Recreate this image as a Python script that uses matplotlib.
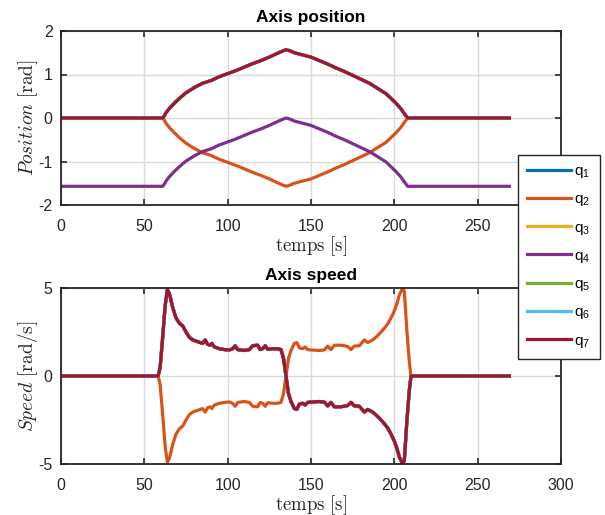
import numpy as np
import matplotlib
matplotlib.use('Agg')
import matplotlib.pyplot as plt

plt.rcParams['font.family'] = ['Liberation Sans', 'DejaVu Sans']
plt.rcParams['mathtext.fontset'] = 'cm'

# ==> Joint trajectory samples (time in s)

t_pos = [0, 61, 62, 63, 65, 68, 71, 75, 80, 85, 90, 95, 100, 105, 110, 115,
         120, 125, 130, 133, 135, 137, 140, 145, 150, 155, 160, 165, 170, 175,
         180, 185, 190, 195, 198, 201, 204, 206, 208, 269]
q7_pos = [0, 0, 0.05, 0.12, 0.22, 0.34, 0.45, 0.58, 0.70, 0.80, 0.86, 0.95,
          1.02, 1.09, 1.17, 1.25, 1.32, 1.40, 1.49, 1.54, 1.57, 1.55, 1.50,
          1.45, 1.40, 1.32, 1.24, 1.15, 1.07, 0.98, 0.89, 0.80, 0.68, 0.56,
          0.45, 0.34, 0.21, 0.10, 0, 0]

t_vel = [0, 58.3, 59.5, 61, 62.5, 63.8, 65, 67, 69, 71, 73, 75, 77, 79, 82,
         85, 86.5, 88, 89.5, 90.5, 92, 95, 98, 101, 103, 104.5, 106, 110, 113,
         115, 118, 119.5, 121, 122.5, 124, 127, 130, 132, 133.5, 135, 136.5,
         138, 140, 141.5, 143, 145, 146.5, 148, 150, 155, 158, 160, 162, 164,
         168, 172, 174, 176, 179, 182, 184, 187, 190, 193, 196, 198, 200,
         201.5, 203, 205, 206, 207.5, 209, 210, 269]
q7_vel = [0, 0, 0.5, 2.2, 4.0, 4.9, 4.7, 3.9, 3.3, 3.0, 2.85, 2.5, 2.2, 2.05,
          1.95, 1.85, 2.05, 1.8, 1.75, 1.85, 1.65, 1.55, 1.5, 1.48, 1.55, 1.72,
          1.5, 1.45, 1.5, 1.72, 1.75, 1.5, 1.55, 1.72, 1.52, 1.55, 1.55, 1.5,
          1.0, 0, -1.0, -1.45, -1.85, -1.9, -1.6, -1.55, -1.65, -1.5, -1.48,
          -1.45, -1.48, -1.7, -1.5, -1.75, -1.75, -1.68, -1.5, -1.7, -1.72,
          -2.05, -1.9, -2.05, -2.3, -2.6, -2.95, -3.3, -3.7, -4.1, -4.6, -5.0,
          -4.8, -2.6, -0.8, 0, 0]

q7_pos = np.array(q7_pos)
q7_vel = np.array(q7_vel)

# q2 mirrors q7, q4 is q7 shifted by -pi/2; the others follow q7
positions = [q7_pos, -q7_pos, q7_pos, q7_pos - 1.57, q7_pos, q7_pos, q7_pos]
speeds = [q7_vel, -q7_vel, q7_vel, q7_vel, q7_vel, q7_vel, q7_vel]
labels = ['$\\mathregular{q_%d}$' % (i + 1) for i in range(7)]
colors = ['#0072BD', '#D95319', '#EDB120', '#7E2F8E', '#77AC30', '#4DBEEE', '#A2142F']

fig = plt.figure(figsize=(6.05, 5.15), dpi=100)
ax1 = fig.add_axes([61 / 605, 1 - 205 / 515, 500 / 605, 174 / 515])
ax2 = fig.add_axes([61 / 605, 1 - 464 / 515, 500 / 605, 176 / 515])


def style_axes(ax, title, ylabel, yticks, title_pad):
    ax.set_xlim(0, 300)
    ax.set_xticks(np.arange(0, 301, 50))
    ax.set_ylim(yticks[0], yticks[-1])
    ax.set_yticks(yticks)
    ax.grid(True, color='#d9d9d9', linewidth=1.0)
    ax.set_axisbelow(True)
    ax.tick_params(direction='in', length=4, width=1.2, top=True, right=True,
                   labelsize=11.5, colors='#262626')
    ax.tick_params(axis='x', pad=10)
    ax.tick_params(axis='y', pad=6)
    for s in ax.spines.values():
        s.set_linewidth(1.3)
        s.set_color('#262626')
    ax.set_title(title, fontsize=12.5, fontweight='bold', pad=title_pad)
    ax.set_xlabel(r'$\mathrm{temps\ [s]}$', fontsize=13.5, color='#262626', labelpad=0)
    ax.set_ylabel(ylabel, fontsize=14, color='#262626', labelpad=-1)


lines = []
for i in range(7):
    l, = ax1.plot(t_pos, positions[i], color=colors[i], lw=2.3, label=labels[i])
    ax2.plot(t_vel, speeds[i], color=colors[i], lw=2.3)
    lines.append(l)

style_axes(ax1, 'Axis position', r'$Position\ \mathrm{[rad]}$', [-2, -1, 0, 1, 2], 6.5)
style_axes(ax2, 'Axis speed', r'$Speed\ \mathrm{[rad/s]}$', [-5, 0, 5], 5.5)
ax1.set_yticklabels(['-2', '-1', '0', '1', '2'])
ax2.set_yticklabels(['-5', '0', '5'])

leg = fig.legend(handles=lines, loc='upper left', bbox_to_anchor=(517.7 / 605, 1 - 155 / 515),
                 fontsize=11, frameon=True, fancybox=False, framealpha=1,
                 edgecolor='#262626', handlelength=2.9, handletextpad=0.2,
                 labelspacing=0.8, borderpad=0.6, borderaxespad=0)
leg.get_frame().set_linewidth(1.0)

fig.savefig('out.png', dpi=100)
